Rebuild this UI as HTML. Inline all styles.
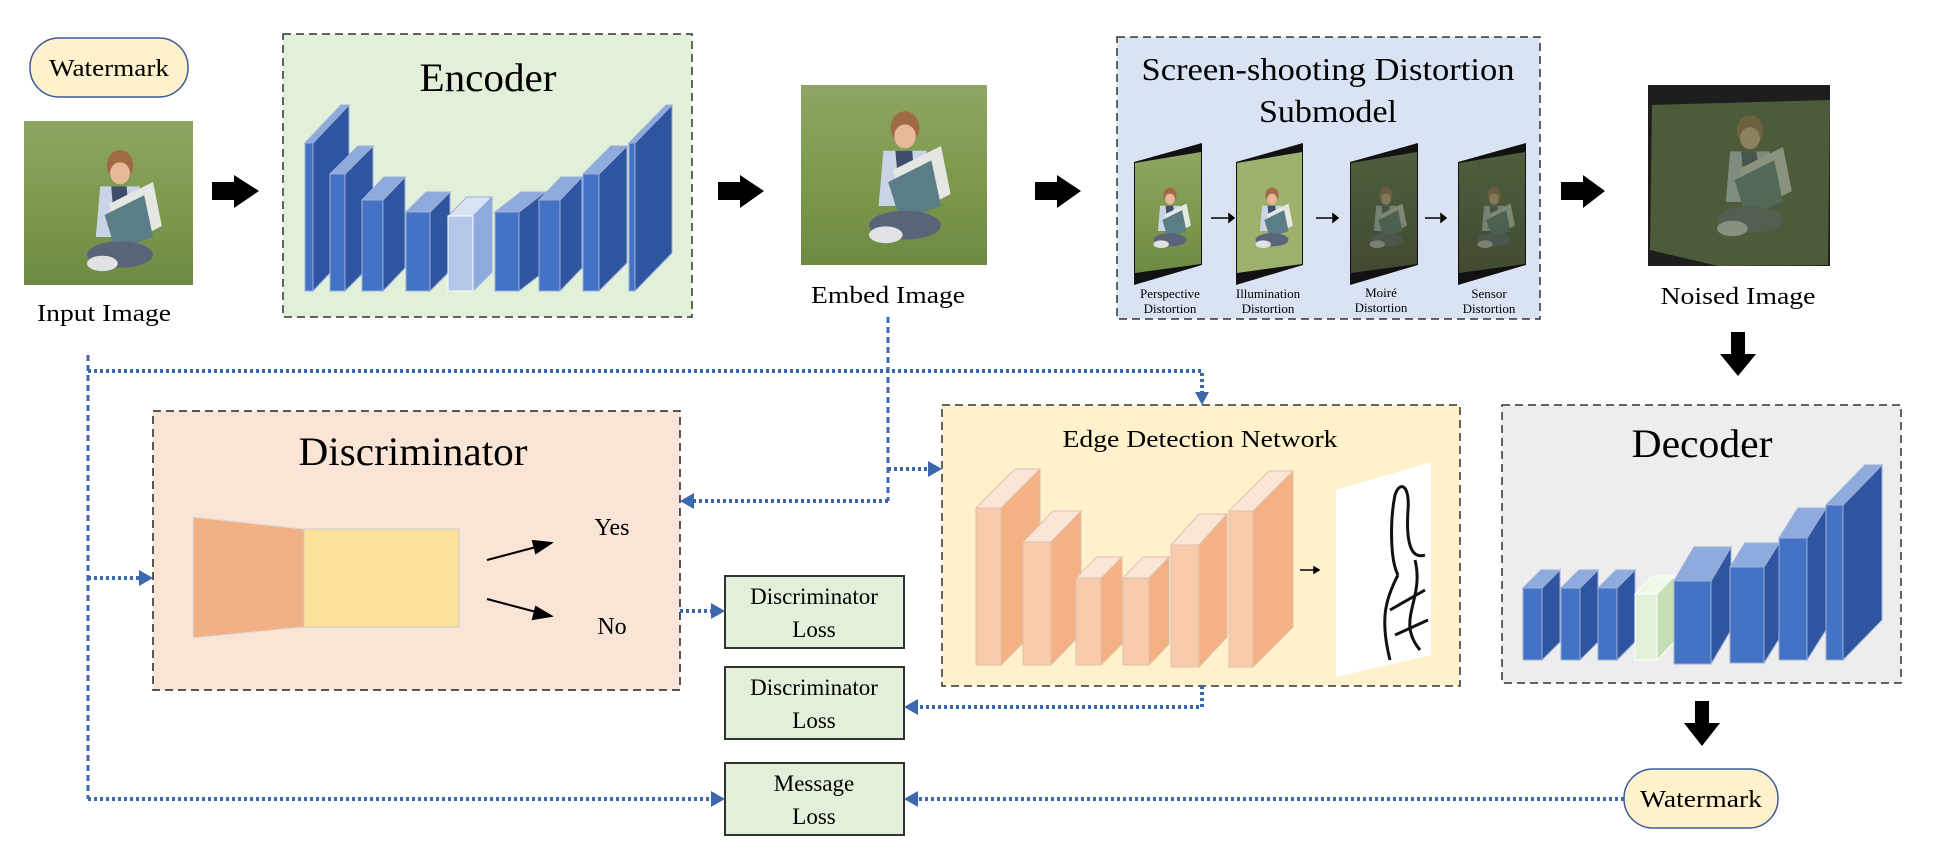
<!DOCTYPE html>
<html><head><meta charset="utf-8"><style>
html,body{margin:0;padding:0;background:#fff}
svg{display:block}
text{font-family:"Liberation Serif",serif;fill:#000}
</style></head><body>
<svg width="1939" height="861" viewBox="0 0 1939 861" xmlns="http://www.w3.org/2000/svg">
<defs>
<linearGradient id="grass" x1="0" y1="0" x2="0" y2="1">
<stop offset="0" stop-color="#8fa564"/><stop offset="0.5" stop-color="#7d9a4e"/><stop offset="1" stop-color="#6d8a42"/></linearGradient>
<linearGradient id="dgrass" x1="0" y1="0" x2="0" y2="1">
<stop offset="0" stop-color="#4f5e3c"/><stop offset="1" stop-color="#404a32"/></linearGradient>
<g id="kid">
<ellipse cx="0" cy="-45" rx="12" ry="14" fill="#a06a45"/>
<ellipse cx="0" cy="-38" rx="9" ry="10" fill="#e8b898"/>
<path d="M-18,-26 L18,-26 L22,20 L-22,20Z" fill="#c9d4e6"/>
<path d="M-8,-26 L-4,20 L10,20 L6,-26Z" fill="#3f4e6b"/>
<path d="M-10,-10 L30,-30 L38,10 L0,30Z" fill="#e5e8e2"/>
<path d="M-14,0 L22,-18 L30,20 L-4,32Z" fill="#5a7d86"/>
<ellipse cx="0" cy="36" rx="30" ry="12" fill="#5a6478"/>
<ellipse cx="-16" cy="44" rx="14" ry="7" fill="#e0e2e6"/>
</g>
</defs>

<!-- Watermark top -->
<rect x="30" y="38" width="158" height="59" rx="29" fill="#fef2cc" stroke="#3d5a9a" stroke-width="1.5"/>
<text x="109" y="76" font-size="24" text-anchor="middle" textLength="120" lengthAdjust="spacingAndGlyphs">Watermark</text>

<!-- Input image -->
<rect x="24" y="121" width="169" height="164" fill="url(#grass)"/>
<use href="#kid" transform="translate(120,215) scale(1.1)"/>
<text x="104" y="321" font-size="24" text-anchor="middle" textLength="134" lengthAdjust="spacingAndGlyphs">Input Image</text>

<!-- block arrows -->
<g fill="#000">
<path d="M212,182 H234 V175 L259,191 L234,208 V200 H212Z"/>
<path d="M718,182 H740 V175 L764,191 L740,208 V200 H718Z"/>
<path d="M1035,182 H1057 V175 L1081,191 L1057,208 V200 H1035Z"/>
<path d="M1561,182 H1583 V175 L1605,191 L1583,208 V200 H1561Z"/>
<path d="M1731,332 H1745 V354 H1756 L1738,376 L1720,354 H1731Z"/>
<path d="M1695,701 H1709 V723 H1720 L1702,746 L1684,723 H1695Z"/>
</g>

<!-- Encoder -->
<rect x="283" y="34" width="409" height="283" fill="#e2efd9" stroke="#333" stroke-width="1.5" stroke-dasharray="8 5"/>
<text x="488" y="91" font-size="40" text-anchor="middle" textLength="137" lengthAdjust="spacingAndGlyphs">Encoder</text>
<g stroke="#9ab0d8" stroke-width="1">
<!-- bar: front x,w,top; bottom 291 -->
<path d="M313,143 L349,105 V253 L313,291Z" fill="#2f55a0"/><path d="M305,143 L341,105 H349 L313,143Z" fill="#8faadc"/><rect x="305" y="143" width="8" height="148" fill="#4472c4"/>
<path d="M345,174 L373,146 V263 L345,291Z" fill="#2f55a0"/><path d="M330,174 L358,146 H373 L345,174Z" fill="#8faadc"/><rect x="330" y="174" width="15" height="117" fill="#4472c4"/>
<path d="M383,200 L405,177 V268 L383,291Z" fill="#2f55a0"/><path d="M362,200 L384,177 H405 L383,200Z" fill="#8faadc"/><rect x="362" y="200" width="21" height="91" fill="#4472c4"/>
<path d="M430,212 L450,192 V271 L430,291Z" fill="#2f55a0"/><path d="M406,212 L426,192 H450 L430,212Z" fill="#8faadc"/><rect x="406" y="212" width="24" height="79" fill="#4472c4"/>
<path d="M473,216 L492,197 V272 L473,291Z" fill="#8faadc"/><path d="M448,216 L467,197 H492 L473,216Z" fill="#dae3f3"/><rect x="448" y="216" width="25" height="75" fill="#b4c7e7" stroke="#fff"/>
<path d="M519,212 L545,192 V271 L519,291Z" fill="#2f55a0"/><path d="M495,212 L521,192 H545 L519,212Z" fill="#8faadc"/><rect x="495" y="212" width="24" height="79" fill="#4472c4"/>
<path d="M560,200 L582,177 V268 L560,291Z" fill="#2f55a0"/><path d="M539,200 L561,177 H582 L560,200Z" fill="#8faadc"/><rect x="539" y="200" width="21" height="91" fill="#4472c4"/>
<path d="M599,174 L627,146 V263 L599,291Z" fill="#2f55a0"/><path d="M583,174 L611,146 H627 L599,174Z" fill="#8faadc"/><rect x="583" y="174" width="16" height="117" fill="#4472c4"/>
<path d="M635,143 L672,105 V253 L635,291Z" fill="#2f55a0"/><path d="M629,143 L666,105 H672 L635,143Z" fill="#8faadc"/><rect x="629" y="143" width="6" height="148" fill="#4472c4"/>
</g>

<!-- Embed image -->
<rect x="801" y="85" width="186" height="180" fill="url(#grass)"/>
<use href="#kid" transform="translate(905,182) scale(1.2)"/>
<text x="888" y="303" font-size="24" text-anchor="middle" textLength="154" lengthAdjust="spacingAndGlyphs">Embed Image</text>

<!-- Screen-shooting box -->
<rect x="1117" y="37" width="423" height="282" fill="#dae3f3" stroke="#333" stroke-width="1.5" stroke-dasharray="8 5"/>
<text x="1328" y="80" font-size="32" text-anchor="middle" textLength="373" lengthAdjust="spacingAndGlyphs">Screen-shooting Distortion</text>
<text x="1328" y="122" font-size="32" text-anchor="middle" textLength="138" lengthAdjust="spacingAndGlyphs">Submodel</text>
<g>
<path d="M1134,162 L1202,143 V265 L1134,285Z" fill="#111"/>
<path d="M1135,163 L1201,152 V264 L1135,273Z" fill="url(#grass)"/>
<use href="#kid" transform="translate(1170,220) scale(0.55)"/>
<path d="M1236,162 L1303,143 V265 L1236,285Z" fill="#111"/>
<path d="M1237,163 L1302,152 V264 L1237,273Z" fill="#9db06c"/>
<use href="#kid" transform="translate(1272,220) scale(0.55)"/>
<path d="M1350,162 L1418,143 V265 L1350,285Z" fill="#111"/>
<path d="M1351,163 L1417,152 V264 L1351,273Z" fill="url(#dgrass)"/>
<use href="#kid" transform="translate(1386,220) scale(0.55)" opacity="0.35"/>
<path d="M1458,162 L1526,143 V265 L1458,285Z" fill="#111"/>
<path d="M1459,163 L1525,152 V264 L1459,273Z" fill="url(#dgrass)"/>
<use href="#kid" transform="translate(1494,220) scale(0.55)" opacity="0.35"/>
</g>
<g stroke="#000" stroke-width="1.5" fill="#000">
<line x1="1211" y1="218" x2="1228" y2="218"/><path d="M1229,214 L1234,218 L1229,222Z"/>
<line x1="1316" y1="218" x2="1332" y2="218"/><path d="M1333,214 L1338,218 L1333,222Z"/>
<line x1="1425" y1="218" x2="1440" y2="218"/><path d="M1441,214 L1446,218 L1441,222Z"/>
</g>
<g font-size="13" text-anchor="middle">
<text x="1170" y="298">Perspective</text><text x="1170" y="313">Distortion</text>
<text x="1268" y="298">Illumination</text><text x="1268" y="313">Distortion</text>
<text x="1381" y="297">Moiré</text><text x="1381" y="312">Distortion</text>
<text x="1489" y="298">Sensor</text><text x="1489" y="313">Distortion</text>
</g>

<!-- Noised image -->
<rect x="1648" y="85" width="182" height="181" fill="#1e1e1e"/>
<path d="M1652,105 L1830,100 L1828,265 L1718,266 L1650,250Z" fill="#4d5b3a"/>
<use href="#kid" transform="translate(1750,180) scale(1.1)" opacity="0.4"/>
<text x="1738" y="304" font-size="24" text-anchor="middle" textLength="155" lengthAdjust="spacingAndGlyphs">Noised Image</text>

<!-- Discriminator -->
<rect x="153" y="411" width="527" height="279" fill="#fae4d5" stroke="#222" stroke-width="1.5" stroke-dasharray="8 5"/>
<text x="413" y="465" font-size="40" text-anchor="middle" textLength="229" lengthAdjust="spacingAndGlyphs">Discriminator</text>
<path d="M193,517 L304,529 V627 L193,638Z" fill="#f2b085" stroke="#ddd"/>
<rect x="304" y="529" width="155" height="98" fill="#fde199" stroke="#ccc"/>
<g stroke="#000" stroke-width="2" fill="#000">
<line x1="487" y1="560" x2="540" y2="546"/><path d="M551,543 L536,553 L533,541Z"/>
<line x1="487" y1="599" x2="540" y2="613"/><path d="M551,616 L533,619 L536,607Z"/>
</g>
<text x="612" y="535" font-size="24" text-anchor="middle">Yes</text>
<text x="612" y="634" font-size="24" text-anchor="middle">No</text>

<!-- Loss boxes -->
<g stroke="#333" stroke-width="2" fill="#e2efd9">
<rect x="725" y="576" width="179" height="72"/>
<rect x="725" y="667" width="179" height="72"/>
<rect x="725" y="763" width="179" height="72"/>
</g>
<g font-size="23" text-anchor="middle">
<text x="814" y="604">Discriminator</text><text x="814" y="637">Loss</text>
<text x="814" y="695">Discriminator</text><text x="814" y="728">Loss</text>
<text x="814" y="791">Message</text><text x="814" y="824">Loss</text>
</g>

<!-- Edge detection -->
<rect x="942" y="405" width="518" height="281" fill="#fff1cc" stroke="#333" stroke-width="1.5" stroke-dasharray="8 5"/>
<text x="1200" y="447" font-size="24" text-anchor="middle" textLength="275" lengthAdjust="spacingAndGlyphs">Edge Detection Network</text>
<g stroke="#e0c0a8" stroke-width="1">
<path d="M1001,508 L1040,469 V626 L1001,665Z" fill="#f4b183"/><path d="M976,508 L1015,469 H1040 L1001,508Z" fill="#fbe5d6"/><rect x="976" y="508" width="25" height="157" fill="#f8cbad"/>
<path d="M1051,542 L1081,511 V634 L1051,665Z" fill="#f4b183"/><path d="M1023,542 L1053,511 H1081 L1051,542Z" fill="#fbe5d6"/><rect x="1023" y="542" width="28" height="123" fill="#f8cbad"/>
<path d="M1101,578 L1122,557 V644 L1101,665Z" fill="#f4b183"/><path d="M1076,578 L1097,557 H1122 L1101,578Z" fill="#fbe5d6"/><rect x="1076" y="578" width="25" height="87" fill="#f8cbad"/>
<path d="M1149,578 L1169,557 V644 L1149,665Z" fill="#f4b183"/><path d="M1123,578 L1143,557 H1169 L1149,578Z" fill="#fbe5d6"/><rect x="1123" y="578" width="26" height="87" fill="#f8cbad"/>
<path d="M1199,545 L1227,514 V637 L1199,667Z" fill="#f4b183"/><path d="M1171,545 L1199,514 H1227 L1199,545Z" fill="#fbe5d6"/><rect x="1171" y="545" width="28" height="122" fill="#f8cbad"/>
<path d="M1253,511 L1293,471 V627 L1253,667Z" fill="#f4b183"/><path d="M1229,511 L1269,471 H1293 L1253,511Z" fill="#fbe5d6"/><rect x="1229" y="511" width="24" height="156" fill="#f8cbad"/>
</g>
<g stroke="#000" stroke-width="1.5" fill="#000"><line x1="1300" y1="570" x2="1314" y2="570"/><path d="M1314,567 L1319,570 L1314,573Z"/></g>
<path d="M1336,490 L1431,462 V655 L1336,677Z" fill="#fff"/>
<g fill="none" stroke="#111" stroke-width="3">
<path d="M1398,575 C1390,560 1390,520 1395,495 C1400,480 1410,485 1408,510 C1406,540 1410,560 1425,555"/>
<path d="M1398,575 C1385,600 1380,620 1390,660 M1415,560 C1425,600 1395,620 1420,650 M1390,610 L1425,590 M1395,635 L1428,620"/>
</g>

<!-- Decoder -->
<rect x="1502" y="405" width="399" height="278" fill="#ededed" stroke="#333" stroke-width="1.5" stroke-dasharray="8 5"/>
<text x="1702" y="457" font-size="40" text-anchor="middle" textLength="141" lengthAdjust="spacingAndGlyphs">Decoder</text>
<g stroke="#9ab0d8" stroke-width="1">
<path d="M1542,588 L1560,570 V642 L1542,660Z" fill="#2f55a0"/><path d="M1523,588 L1541,570 H1560 L1542,588Z" fill="#8faadc"/><rect x="1523" y="588" width="19" height="72" fill="#4472c4"/>
<path d="M1580,588 L1598,570 V642 L1580,660Z" fill="#2f55a0"/><path d="M1561,588 L1579,570 H1598 L1580,588Z" fill="#8faadc"/><rect x="1561" y="588" width="19" height="72" fill="#4472c4"/>
<path d="M1617,588 L1635,570 V642 L1617,660Z" fill="#2f55a0"/><path d="M1598,588 L1616,570 H1635 L1617,588Z" fill="#8faadc"/><rect x="1598" y="588" width="19" height="72" fill="#4472c4"/>
<path d="M1657,594 L1674,576 V642 L1657,660Z" fill="#c5e0b4" stroke="#fff"/><path d="M1635,594 L1652,576 H1674 L1657,594Z" fill="#eef7e8" stroke="#fff"/><rect x="1635" y="594" width="22" height="66" fill="#e2f0d9" stroke="#fff"/>
<path d="M1711,581 L1731,547 V630 L1711,664Z" fill="#2f55a0"/><path d="M1674,581 L1694,547 H1731 L1711,581Z" fill="#8faadc"/><rect x="1674" y="581" width="37" height="83" fill="#4472c4"/>
<path d="M1764,567 L1779,543 V639 L1764,663Z" fill="#2f55a0"/><path d="M1730,567 L1745,543 H1779 L1764,567Z" fill="#8faadc"/><rect x="1730" y="567" width="34" height="96" fill="#4472c4"/>
<path d="M1807,538 L1826,508 V630 L1807,660Z" fill="#2f55a0"/><path d="M1779,538 L1798,508 H1826 L1807,538Z" fill="#8faadc"/><rect x="1779" y="538" width="28" height="122" fill="#4472c4"/>
<path d="M1843,505 L1882,465 V620 L1843,660Z" fill="#2f55a0"/><path d="M1826,505 L1865,465 H1882 L1843,505Z" fill="#8faadc"/><rect x="1826" y="505" width="17" height="155" fill="#4472c4"/>
</g>

<!-- Watermark bottom -->
<rect x="1624" y="769" width="154" height="59" rx="29" fill="#fef2cc" stroke="#3d5a9a" stroke-width="1.5"/>
<text x="1701" y="807" font-size="24" text-anchor="middle" textLength="122" lengthAdjust="spacingAndGlyphs">Watermark</text>

<!-- dotted connectors -->
<g fill="none" stroke="#3d68ad" stroke-width="4">
<path d="M88,355 V799" stroke-dasharray="6 4" stroke-width="3"/>
<path d="M888,317 V501" stroke-dasharray="6 4" stroke-width="3"/>
<path d="M88,371 H1202 V395" stroke-dasharray="3 3"/>
<path d="M888,501 H693" stroke-dasharray="3 3"/>
<path d="M888,469 H928" stroke-dasharray="3 3"/>
<path d="M88,578 H141" stroke-dasharray="3 3"/>
<path d="M680,611 H712" stroke-dasharray="3 3"/>
<path d="M1202,686 V707 H917" stroke-dasharray="3 3"/>
<path d="M88,799 H712" stroke-dasharray="3 3"/>
<path d="M1624,799 H917" stroke-dasharray="3 3"/>
</g>
<g fill="#3d68ad">
<path d="M1195,392 L1209,392 L1202,405Z"/>
<path d="M680,501 L694,493 V509Z"/>
<path d="M942,469 L928,461 V477Z"/>
<path d="M153,578 L139,570 V586Z"/>
<path d="M725,611 L711,603 V619Z"/>
<path d="M904,707 L918,699 V715Z"/>
<path d="M725,799 L711,791 V807Z"/>
<path d="M904,799 L918,791 V807Z"/>
</g>
</svg>
</body></html>
